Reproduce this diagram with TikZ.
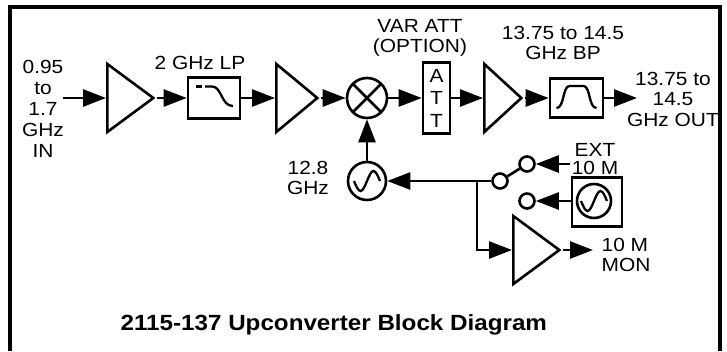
\documentclass[tikz,border=0pt]{standalone}
\usepackage{fontspec}
\setmainfont{Liberation Sans}[FakeStretch=1.1]
\usetikzlibrary{
  shapes.geometric,
  arrows.meta,
  positioning,
}
\tikzset{
  amp/.style={
    isosceles triangle,
    isosceles triangle stretches,
    minimum width=68pt,
    inner sep=0pt,
    anchor=west,
    draw=black
  },
  mixer/.style={
    circle,
    minimum size=40pt,
    inner sep=0pt,
    draw=black,
    path picture={
      \draw (path picture bounding box.north west) -- (path picture bounding box.south east)
            (path picture bounding box.north east) -- (path picture bounding box.south west);
    }
  },
  osc/.style={
    circle,
    minimum size=38pt,
    inner sep=0pt,
    draw=black,
    path picture={
      \draw[line width=2.3pt] ([xshift=-13pt]path picture bounding box.center)
        sin ++(6.5pt,-10pt) cos ++(6.5pt,10pt) sin ++(6.5pt,10pt) cos ++(6.5pt,-10pt);
    }
  },
  lowpass/.style={
    rectangle,
    minimum width=52pt,
    minimum height=41pt,
    draw=black,
    path picture={
      \draw[line width=2.3pt] ([shift={(-18pt,11.5pt)}]path picture bounding box.center) -- ++(5.5pt,0pt);
      \draw[line width=2.3pt] ([shift={(-9pt,11.5pt)}]path picture bounding box.center) -- ++(7pt,0pt)
        .. controls +(10pt,0pt) and +(-12pt,0pt) .. ++(21pt,-19.5pt);
    }
  },
  bandpass/.style={
    rectangle,
    minimum width=53pt,
    minimum height=39pt,
    draw=black,
    path picture={
      \draw[line width=2.3pt] ([shift={(-20pt,-10pt)}]path picture bounding box.center)
        .. controls +(8pt,0pt) and +(-7pt,0pt) .. ++(13pt,22pt) -- ++(14pt,0pt)
        .. controls +(7pt,0pt) and +(-8pt,0pt) .. ++(13pt,-22pt);
    }
  },
  attbox/.style={
    rectangle,
    minimum width=27pt,
    minimum height=71pt,
    inner sep=0pt,
    align=center,
    font=\fontsize{19}{22.5}\selectfont,
    draw=black
  },
  refbox/.style={
    rectangle,
    minimum width=50pt,
    minimum height=49pt,
    draw=black
  },
  contact/.style={
    circle,
    minimum size=15pt,
    inner sep=0pt,
    fill=white,
    draw=black
  },
  arrow/.style={
    -{Triangle[length=23pt,width=17pt]},
  },
}

\begin{document}
\begin{tikzpicture}[
    x=1pt, y=-1pt,
    line width=2.6pt,
    font=\fontsize{19}{20.5}\selectfont,
  ]
  \useasboundingbox (0,0) rectangle (727,351);

  % Frame
  \draw[line width=3.2pt] (10,351) -- (10,7) -- (720,7) -- (720,351);

  % Main chain
  \coordinate (rfin) at (63,98);
  \node (amp1) [amp, minimum height=46pt] at (106,98) {};
  \node (lp) [lowpass] at (214,98) {};
  \node (amp2) [amp, minimum height=41pt] at (275,98) {};
  \node (mix) [mixer] at (367,98) {};
  \node (att) [attbox] at (436.5,98) {A\\T\\T};
  \node (amp3) [amp, minimum height=37pt] at (483,98) {};
  \node (bp) [bandpass] at (576.5,98) {};
  \coordinate (rfout) at (637,98);

  % LO and 10 M reference
  \node (lo) [osc] at (367,181) {};
  \coordinate (tap) at (477,181);
  \node (pivot) [contact] at (500,181) {};
  \node (extc) [contact] at (527,164) {};
  \node (intc) [contact] at (527,201) {};
  \coordinate (extin) at (570,164);
  \node (ref) [refbox] at (597,202) {};
  \node (refosc) [osc, minimum size=34pt] at (594,201) {};
  \node (amp4) [amp, minimum height=46pt] at (512,250) {};
  \coordinate (monout) at (593,250);

  % Labels
  \node (inlbl) [align=center, font=\fontsize{19}{21}\selectfont] at (43,109) {0.95\\to\\1.7\\GHz\\IN};
  \node (lplbl) at (200,63) {2 GHz LP};
  \node (attlbl) [align=center] at (420,38) {VAR ATT\\(OPTION)};
  \node (bplbl) [align=center] at (563,43) {13.75 to 14.5\\GHz BP};
  \node (outlbl) [align=center] at (673,99) {13.75 to\\14.5\\GHz OUT};
  \node (lolbl) [align=center] at (308,178) {12.8\\GHz};
  \node (extlbl) [align=center, font=\fontsize{19}{18}\selectfont] at (595,159) {EXT\\10 M};
  \node (monlbl) [align=left, anchor=west] at (597,255) {10 M\\MON};
  \node (title) [anchor=base west, font=\fontsize{22}{24}\selectfont\bfseries] at (116,330)
    {2115-137 Upconverter Block Diagram};

  % Arrows
  \draw [arrow] (rfin) -- (amp1.west);
  \draw [arrow] (amp1.apex) -- (lp.west);
  \draw [arrow] (lp.east) -- (amp2.west);
  \draw [arrow] (amp2.apex) -- (mix.west);
  \draw [arrow] (mix.east) -- (att.west);
  \draw [arrow] (att.east) -- (amp3.west);
  \draw [arrow] (amp3.apex) -- (bp.west);
  \draw [arrow] (bp.east) -- (rfout);

  \draw [arrow] (lo.north) -- (mix.south);
  \draw [arrow] (pivot.west) -- (lo.east);
  \draw (pivot) -- (extc);
  \draw [arrow] (extin) -- (extc.east);
  \draw [arrow] (ref.west |- intc) -- (intc.east);
  \draw [arrow] (tap) |- (amp4.west);
  \draw [arrow] (amp4.apex) -- (monout);

\end{tikzpicture}
\end{document}
